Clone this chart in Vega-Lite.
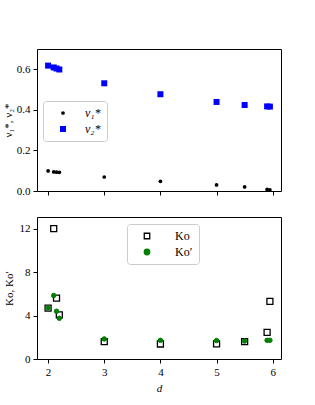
{
  "$schema": "https://vega.github.io/schema/vega-lite/v6.json",
  "padding": {"left": 1, "top": 48, "right": 0, "bottom": 0},
  "spacing": 19,
  "config": {
    "font": "Liberation Serif",
    "view": {"stroke": "black", "strokeWidth": 1},
    "axis": {"grid": false, "domain": false, "tickColor": "black", "labelColor": "black", "titleColor": "black", "labelFont": "Liberation Serif", "titleFont": "Liberation Serif", "labelFontSize": 11, "titleFontSize": 11, "titleFontWeight": "normal", "tickSize": 4, "labelPadding": 3},
    "legend": {"labelFont": "Liberation Serif", "labelFontSize": 12, "labelColor": "black"}
  },
  "resolve": {
    "scale": {"color": "independent", "shape": "independent", "size": "independent", "fill": "independent", "stroke": "independent"},
    "legend": {"color": "independent", "shape": "independent", "size": "independent", "fill": "independent", "stroke": "independent"}
  },
  "datasets": {
    "nu": [
      {"d": 2.0, "v": 0.099, "s": "ν₁*"},
      {"d": 2.1, "v": 0.094, "s": "ν₁*"},
      {"d": 2.15, "v": 0.093, "s": "ν₁*"},
      {"d": 2.2, "v": 0.092, "s": "ν₁*"},
      {"d": 3.0, "v": 0.069, "s": "ν₁*"},
      {"d": 4.0, "v": 0.048, "s": "ν₁*"},
      {"d": 5.0, "v": 0.030, "s": "ν₁*"},
      {"d": 5.5, "v": 0.020, "s": "ν₁*"},
      {"d": 5.9, "v": 0.008, "s": "ν₁*"},
      {"d": 5.95, "v": 0.005, "s": "ν₁*"},
      {"d": 2.0, "v": 0.618, "s": "ν₂*"},
      {"d": 2.1, "v": 0.609, "s": "ν₂*"},
      {"d": 2.15, "v": 0.604, "s": "ν₂*"},
      {"d": 2.2, "v": 0.599, "s": "ν₂*"},
      {"d": 3.0, "v": 0.531, "s": "ν₂*"},
      {"d": 4.0, "v": 0.477, "s": "ν₂*"},
      {"d": 5.0, "v": 0.439, "s": "ν₂*"},
      {"d": 5.5, "v": 0.424, "s": "ν₂*"},
      {"d": 5.9, "v": 0.417, "s": "ν₂*"},
      {"d": 5.95, "v": 0.416, "s": "ν₂*"}
    ],
    "ko": [
      {"d": 2.0, "v": 4.68, "s": "Ko"},
      {"d": 2.1, "v": 12.0, "s": "Ko"},
      {"d": 2.15, "v": 5.6, "s": "Ko"},
      {"d": 2.2, "v": 4.06, "s": "Ko"},
      {"d": 3.0, "v": 1.6, "s": "Ko"},
      {"d": 4.0, "v": 1.38, "s": "Ko"},
      {"d": 5.0, "v": 1.4, "s": "Ko"},
      {"d": 5.5, "v": 1.6, "s": "Ko"},
      {"d": 5.9, "v": 2.46, "s": "Ko"},
      {"d": 5.95, "v": 5.3, "s": "Ko"},
      {"d": 2.0, "v": 4.7, "s": "Ko′"},
      {"d": 2.1, "v": 5.85, "s": "Ko′"},
      {"d": 2.15, "v": 4.4, "s": "Ko′"},
      {"d": 2.2, "v": 3.75, "s": "Ko′"},
      {"d": 3.0, "v": 1.85, "s": "Ko′"},
      {"d": 4.0, "v": 1.72, "s": "Ko′"},
      {"d": 5.0, "v": 1.7, "s": "Ko′"},
      {"d": 5.5, "v": 1.65, "s": "Ko′"},
      {"d": 5.9, "v": 1.72, "s": "Ko′"},
      {"d": 5.95, "v": 1.72, "s": "Ko′"}
    ]
  },
  "vconcat": [
    {
      "width": 244,
      "height": 142,
      "data": {"name": "nu"},
      "mark": {"type": "point", "filled": true, "opacity": 1},
      "encoding": {
        "x": {"field": "d", "type": "quantitative", "scale": {"domain": [1.8025, 6.1475], "nice": false, "zero": false}, "axis": {"values": [2, 3, 4, 5, 6], "labels": false, "title": null}},
        "y": {"field": "v", "type": "quantitative", "scale": {"domain": [0, 0.7], "nice": false}, "axis": {"values": [0, 0.2, 0.4, 0.6], "format": ".1f", "title": "ν₁*, ν₂*", "titlePadding": 3}},
        "color": {"field": "s", "type": "nominal", "scale": {"domain": ["ν₁*", "ν₂*"], "range": ["black", "blue"]}, "legend": {"title": null, "orient": "none", "legendX": 6, "legendY": 52, "fillColor": "white", "strokeColor": "#cccccc", "cornerRadius": 3, "padding": 6, "symbolOffset": 8, "labelOffset": 16, "rowPadding": 4, "labelFontStyle": "italic", "symbolSize": 25}},
        "shape": {"field": "s", "type": "nominal", "scale": {"domain": ["ν₁*", "ν₂*"], "range": ["circle", "square"]}},
        "size": {"field": "s", "type": "nominal", "scale": {"domain": ["ν₁*", "ν₂*"], "range": [14, 36]}, "legend": null}
      }
    },
    {
      "width": 244,
      "height": 142,
      "data": {"name": "ko"},
      "encoding": {
        "x": {"field": "d", "type": "quantitative", "scale": {"domain": [1.8025, 6.1475], "nice": false, "zero": false}, "axis": {"values": [2, 3, 4, 5, 6], "title": "d", "titleFontStyle": "italic", "titlePadding": 5}},
        "y": {"field": "v", "type": "quantitative", "scale": {"domain": [0, 13.08], "nice": false}, "axis": {"values": [0, 4, 8, 12], "title": "Ko, Ko′", "titlePadding": 5}},
        "fill": {"field": "s", "type": "nominal", "scale": {"domain": ["Ko", "Ko′"], "range": ["white", "green"]}, "legend": {"title": null, "orient": "none", "legendX": 90, "legendY": 7, "fillColor": "white", "strokeColor": "#cccccc", "cornerRadius": 3, "padding": 6, "symbolOffset": 8, "labelOffset": 22, "rowPadding": 4, "symbolSize": 30, "symbolStrokeWidth": 1.3}},
        "stroke": {"field": "s", "type": "nominal", "scale": {"domain": ["Ko", "Ko′"], "range": ["black", "green"]}},
        "shape": {"field": "s", "type": "nominal", "scale": {"domain": ["Ko", "Ko′"], "range": ["square", "circle"]}}
      },
      "layer": [
        {
          "transform": [{"filter": "datum.s === 'Ko'"}],
          "mark": {"type": "point", "opacity": 1, "strokeWidth": 1.3, "size": 36}
        },
        {
          "transform": [{"filter": "datum.s !== 'Ko'"}],
          "mark": {"type": "point", "opacity": 1, "strokeWidth": 1, "size": 20}
        }
      ]
    }
  ]
}
